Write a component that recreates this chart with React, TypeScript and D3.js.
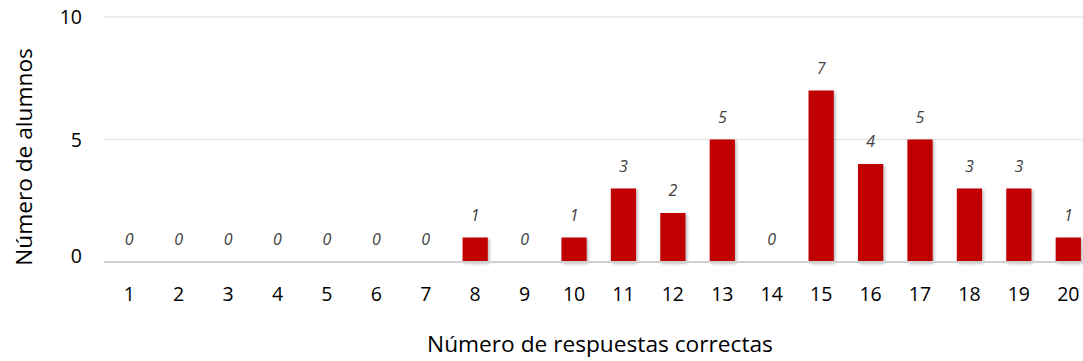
import React from "react";
import * as d3 from "d3";

const categories = ["1","2","3","4","5","6","7","8","9","10","11","12","13","14","15","16","17","18","19","20"];
const values = [0,0,0,0,0,0,0,1,0,1,3,2,5,0,7,4,5,3,3,1];
const yTicks = [0, 5, 10];
const xTitle = "Número de respuestas correctas";
const yTitle = "Número de alumnos";

const W = 1083, H = 361;
const FONT = "'Open Sans', 'Noto Sans', sans-serif";

export default function App() {
  const x = d3.scaleBand<string>().domain(categories).range([104.5, 1093]).paddingInner(0.49).paddingOuter(0.245);
  const y = d3.scaleLinear().domain([0, 10]).range([262, 17]);
  return (
    <svg width={W} height={H} style={{ position: "absolute", left: 0, top: 0, background: "#fff" }}>
      <defs>
        <filter id="sh" x="-30%" y="-10%" width="160%" height="130%">
          <feDropShadow dx="1.5" dy="1.5" stdDeviation="1.5" floodColor="#000" floodOpacity="0.3" />
        </filter>
      </defs>
      {yTicks.filter(t => t > 0).map(t => (
        <line key={t} x1={104} x2={W} y1={y(t)} y2={y(t)} stroke="#e6e6e6" strokeWidth={1.5} />
      ))}
      {yTicks.map(t => (
        <text key={"t" + t} x={82} y={y(t) - (t === 0 ? 6 : 0)} dy="0.36em" textAnchor="end" fontFamily={FONT} fontSize={19.5} fill="#000">{t}</text>
      ))}
      {categories.map((c, i) => (
        <g key={c}>
          {values[i] > 0 && (
            <rect x={x(c)} y={y(values[i])} width={x.bandwidth()} height={y(0) - y(values[i])} fill="#C00000" filter="url(#sh)" />
          )}
          <text x={(x(c) as number) + x.bandwidth() / 2} y={y(values[i]) - 17} textAnchor="middle" fontFamily={FONT} fontStyle="italic" fontSize={16} fill="#404040">{values[i]}</text>
          <text x={(x(c) as number) + x.bandwidth() / 2} y={301} textAnchor="middle" fontFamily={FONT} fontSize={19.5} fill="#000">{c}</text>
        </g>
      ))}
      <line x1={104} x2={W} y1={y(0)} y2={y(0)} stroke="#d0d0d0" strokeWidth={2} />
      <text x={600} y={352} textAnchor="middle" fontFamily={FONT} fontSize={22.7} fill="#000">{xTitle}</text>
      <text transform={`translate(32,${157}) rotate(-90)`} textAnchor="middle" fontFamily={FONT} fontSize={22.7} fill="#000">{yTitle}</text>
    </svg>
  );
}
